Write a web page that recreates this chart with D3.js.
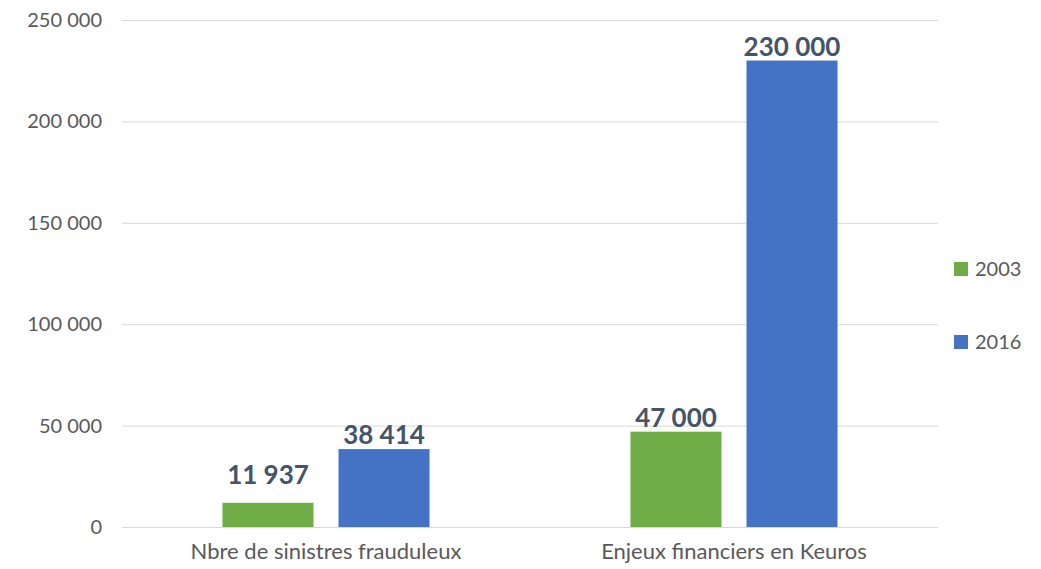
<!DOCTYPE html>
<html lang="fr">
<head>
<meta charset="utf-8">
<script src="https://d3js.org/d3.v7.min.js"></script>
<style>
  body { margin: 0; background: #fff; }
  text { font-family: Lato, "Open Sans", sans-serif; }
</style>
</head>
<body>
<div id="chart"></div>
<script>
// data
const categories = ["Nbre de sinistres frauduleux", "Enjeux financiers en Keuros"];
const years = ["2003", "2016"];
const values2003 = [11937, 47000];
const values2016 = [38414, 230000];
const yTicks = [0, 50000, 100000, 150000, 200000, 250000];
const colours = ["#70AD47", "#4472C4"];

const W = 1041, H = 569;
const mLeft = 122, mRight = 938, mTop = 20, mBottom = 527;

const svg = d3.select("#chart").append("svg")
  .attr("width", W).attr("height", H);

const y = d3.scaleLinear().domain([0, 250000]).range([mBottom, mTop]);
const x0 = d3.scaleBand().domain(categories).range([mLeft, mRight]).paddingInner(0).paddingOuter(0);
const x1 = d3.scaleBand().domain(years).range([0, x0.bandwidth()]).paddingInner(0.2155).paddingOuter(0.866);

const fmt = v => d3.format(",")(v).replace(/,/g, " ");

// gridlines
svg.append("g").selectAll("line").data(yTicks).join("line")
  .attr("x1", mLeft).attr("x2", mRight)
  .attr("y1", d => y(d) + 0.5).attr("y2", d => y(d) + 0.5)
  .attr("stroke", "#d9d9d9").attr("stroke-width", 1);

// y axis labels
const yAxis = svg.append("g")
  .attr("transform", `translate(${mLeft - 20},0)`)
  .call(d3.axisLeft(y).tickValues(yTicks).tickFormat(fmt).tickSize(0).tickPadding(0));
yAxis.select(".domain").remove();
yAxis.selectAll("text").attr("fill", "#595959").style("font-size", "20px")
  .style("font-family", "Lato, 'Open Sans', sans-serif");

// x axis labels
const xAxis = svg.append("g")
  .attr("transform", `translate(0,${mBottom})`)
  .call(d3.axisBottom(x0).tickSize(0).tickPadding(16));
xAxis.select(".domain").remove();
xAxis.selectAll("text").attr("fill", "#595959").style("font-size", "22px")
  .style("font-family", "Lato, 'Open Sans', sans-serif");

const rows = categories.map((c, i) => ({ cat: c, vals: [values2003[i], values2016[i]] }));

const groups = svg.append("g").selectAll("g").data(rows).join("g")
  .attr("transform", d => `translate(${x0(d.cat)},0)`);

groups.selectAll("rect").data(d => d.vals.map((v, j) => ({ year: years[j], v, j }))).join("rect")
  .attr("x", d => x1(d.year))
  .attr("width", x1.bandwidth())
  .attr("y", d => y(d.v))
  .attr("height", d => mBottom - y(d.v))
  .attr("fill", d => colours[d.j]);

// the first label sits a little higher above its short bar in the original
groups.selectAll("text.lbl").data((d, i) => d.vals.map((v, j) => ({ year: years[j], v, j, gap: (i === 0 && j === 0) ? 19 : 5 }))).join("text")
  .attr("class", "lbl")
  .attr("x", d => x1(d.year) + x1.bandwidth() / 2)
  .attr("y", d => y(d.v) - d.gap)
  .attr("text-anchor", "middle")
  .attr("fill", "#44546A")
  .style("font-size", "26px")
  .style("font-weight", "bold")
  .text(d => fmt(d.v));

// legend
const legend = svg.append("g").selectAll("g").data(years).join("g")
  .attr("transform", (d, i) => `translate(954,${262 + i * 73})`);
legend.append("rect").attr("width", 14).attr("height", 14).attr("fill", (d, i) => colours[i]);
legend.append("text").attr("x", 21).attr("y", 7).attr("dy", "0.35em")
  .attr("fill", "#595959").style("font-size", "20px").text(d => d);
</script>
</body>
</html>
